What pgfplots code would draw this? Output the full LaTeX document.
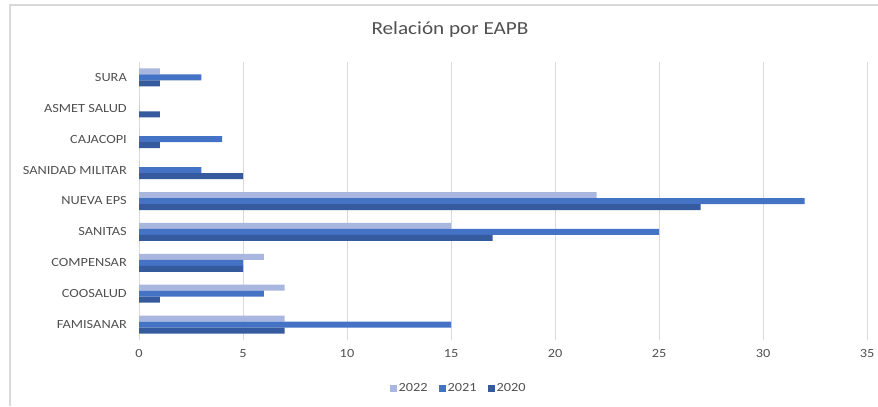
\documentclass[border=0pt]{standalone}
\usepackage{fontspec}
\setmainfont{Carlito}[FakeStretch=1.15]
\usepackage{pgfplots}
\pgfplotsset{compat=1.18}

\definecolor{c2022}{RGB}{169,182,223}
\definecolor{c2021}{RGB}{68,114,196}
\definecolor{c2020}{RGB}{53,90,158}
\definecolor{txt}{RGB}{80,80,80}
\definecolor{gridc}{RGB}{217,217,217}

\begin{document}
\begin{tikzpicture}[x=1bp,y=1bp]
\path[use as bounding box] (0,0) rectangle (878,406);
\draw[gridc, line width=1.5bp] (10,0) -- (10,401) -- (878,401);
\node[txt, font=\fontsize{18.5}{20}\selectfont] at (450,376) {Relación por EAPB};

\begin{axis}[
  at={(139bp,66bp)}, anchor=south west,
  scale only axis, width=728bp, height=278bp,
  xbar, bar width=6bp,
  xmin=0, xmax=35, xtick={0,5,...,35},
  ymin=-0.5, ymax=8.5,
  ytick={0,...,8},
  yticklabels={FAMISANAR,COOSALUD,COMPENSAR,SANITAS,NUEVA EPS,SANIDAD MILITAR,CAJACOPI,ASMET SALUD,SURA},
  axis line style={draw=none},
  major tick length=0pt,
  xmajorgrids, grid style={gridc, line width=0.9bp},
  tick label style={txt, font=\fontsize{12.5}{14}\selectfont},
  /pgf/number format/assume math mode=true,
  yticklabel style={inner sep=0pt, xshift=-12bp},
  xticklabel style={inner sep=0pt, yshift=-9bp},
  legend style={at={(0.439,-0.173)}, anchor=center, draw=none, fill=none,
    font=\fontsize{12.5}{14}\selectfont, text=txt, legend columns=3,
    /tikz/every even column/.append style={column sep=9bp}},
  legend image code/.code={\fill[#1] (0bp,-3.5bp) rectangle (7bp,3.5bp);},
]
\addplot[fill=c2022, draw=none, bar shift=6bp] coordinates {
  (7,0) (7,1) (6,2) (15,3) (22,4) (0,5) (0,6) (0,7) (1,8)};
\addplot[fill=c2021, draw=none, bar shift=0bp] coordinates {
  (15,0) (6,1) (5,2) (25,3) (32,4) (3,5) (4,6) (0,7) (3,8)};
\addplot[fill=c2020, draw=none, bar shift=-6bp] coordinates {
  (7,0) (1,1) (5,2) (17,3) (27,4) (5,5) (1,6) (1,7) (1,8)};
\legend{2022,2021,2020}
\end{axis}
\end{tikzpicture}
\end{document}
